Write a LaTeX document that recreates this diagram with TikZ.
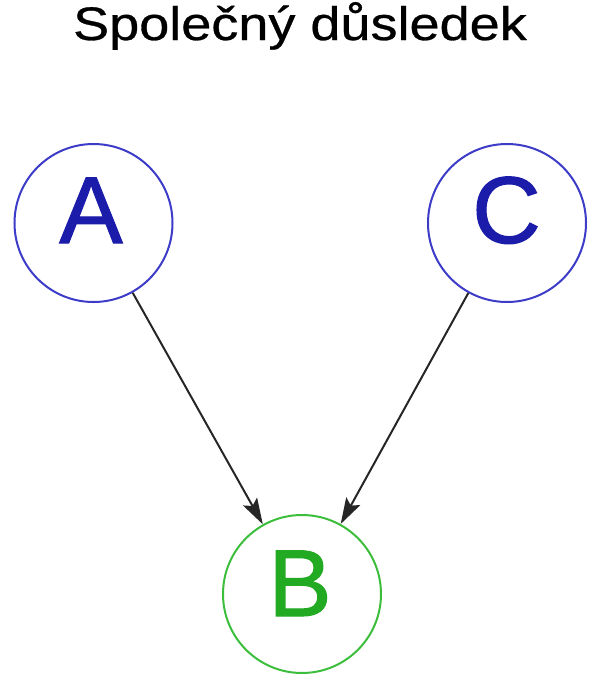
\documentclass[tikz,border=0pt]{standalone}
\usepackage{fontspec}
\setmainfont{Liberation Sans}
\newfontfamily\heavysans[FakeBold=1.2]{Liberation Sans}
\newfontfamily\midsans[FakeBold=0.6]{Liberation Sans}
\usetikzlibrary{arrows.meta}
\definecolor{nodeblue}{RGB}{60,60,200}
\definecolor{letterblue}{RGB}{28,28,170}
\definecolor{nodegreen}{RGB}{60,190,60}
\definecolor{lettergreen}{RGB}{34,170,34}
\tikzset{
  circ/.style={circle, draw, line width=2pt, inner sep=0pt, minimum size=158pt},
  lettr/.style={anchor=base, inner sep=0pt, font=\heavysans\fontsize{95}{95}\selectfont},
  arr/.style={draw=black!85, line width=2pt, -{Stealth[length=26pt,width=16pt,inset=5pt]}},
}
\begin{document}
\begin{tikzpicture}[x=1pt,y=-1pt]
\useasboundingbox (0,0) rectangle (600,689);
\node[anchor=base, inner sep=0pt, xscale=1.15, font=\midsans\fontsize{47}{47}\selectfont] (title) at (300,40) {Společný důsledek};
\node[circ, draw=nodeblue] (A) at (93.5,223) {};
\node[circ, draw=nodeblue] (C) at (507,223) {};
\node[circ, draw=nodegreen] (B) at (302,594) {};
\node[lettr, text=letterblue] (Alab) at (91,243) {A};
\node[lettr, text=letterblue] (Clab) at (506.5,243) {C};
\node[lettr, text=lettergreen] (Blab) at (300,616) {B};
\draw[arr] (A) -- (B);
\draw[arr] (C) -- (B);
\end{tikzpicture}
\end{document}
